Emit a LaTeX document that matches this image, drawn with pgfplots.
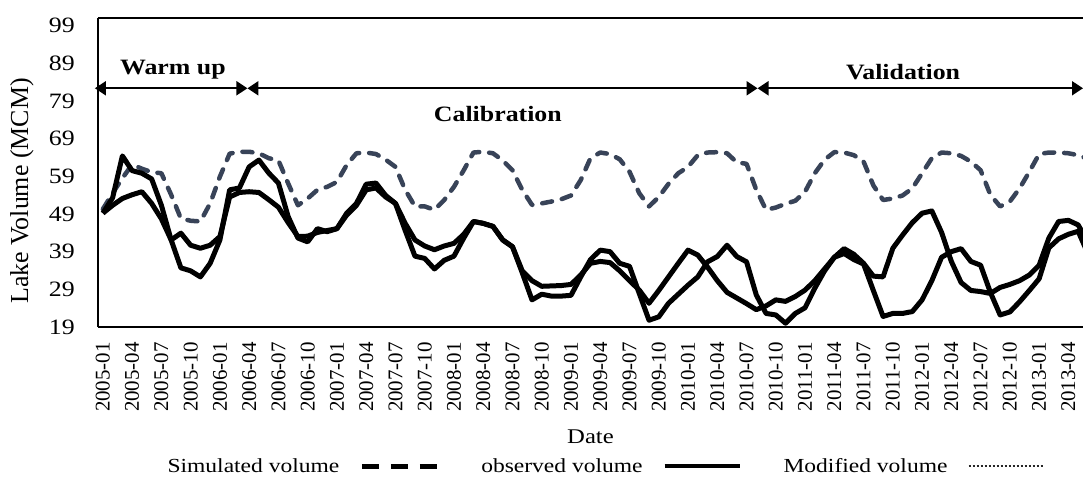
\documentclass[border=0pt]{standalone}
\usepackage{fontspec}
\setmainfont{Liberation Serif}
\newfontfamily\wide[FakeStretch=1.18]{Liberation Serif}
\usepackage{pgfplots}
\usepackage{pgfplotstable}
\pgfplotsset{compat=1.18}
\usetikzlibrary{arrows.meta}
\definecolor{simcol}{RGB}{56,67,88}

\pgfplotstableread{
i S A B
0 50.3 49.2 49.2
1 54.5 53.3 51.3
2 58.5 64.4 53.1
3 62.1 60.5 54.1
4 61.0 59.8 54.9
5 60.1 58.3 51.8
6 59.8 51.3 47.7
7 54.1 42.1 42.1
8 47.8 34.7 43.9
9 47.2 33.9 40.7
10 47.0 32.3 39.9
11 51.8 35.9 40.7
12 58.9 42.1 43.0
13 65.0 55.4 53.5
14 65.5 55.9 54.7
15 65.5 61.5 54.9
16 65.1 63.3 54.7
17 63.8 59.9 52.8
18 63.2 57.2 50.8
19 57.1 48.3 46.7
20 51.3 42.6 43.0
21 53.1 41.6 43.1
22 55.4 45.1 44.1
23 56.2 44.3 44.6
24 57.5 45.1 45.1
25 62.0 49.2 48.7
26 65.1 51.8 51.3
27 65.3 56.9 55.4
28 64.9 57.2 55.9
29 63.4 53.9 53.5
30 61.5 51.8 51.8
31 55.4 44.6 46.5
32 51.0 37.8 42.1
33 51.0 37.2 40.5
34 50.1 34.4 39.5
35 52.7 36.7 40.5
36 56.2 37.8 41.2
37 60.6 42.6 43.6
38 65.3 47.0 47.0
39 65.5 46.5 46.5
40 65.1 45.7 45.7
41 63.2 42.1 42.1
42 60.6 40.3 40.3
43 55.4 33.4 33.9
44 51.4 26.2 31.3
45 51.8 27.7 29.8
46 52.3 27.2 29.9
47 52.9 27.2 30.0
48 53.9 27.4 30.3
49 58.0 32.3 32.8
50 63.8 36.9 35.9
51 65.3 39.4 36.4
52 64.9 39.0 36.1
53 63.5 35.9 33.9
54 60.2 35.1 31.3
55 54.5 27.9 28.8
56 51.0 20.8 25.3
57 53.5 21.7 28.7
58 57.0 25.3 32.3
59 59.8 27.7 35.9
60 61.5 30.1 39.4
61 64.6 32.3 38.1
62 65.3 36.3 34.9
63 65.4 37.7 31.3
64 65.1 40.7 28.2
65 62.7 37.7 26.7
66 62.3 36.3 25.2
67 55.4 27.5 23.6
68 50.1 22.6 24.6
69 50.7 22.2 26.2
70 51.7 20.0 25.8
71 52.5 22.6 27.1
72 54.9 24.1 28.8
73 59.8 29.3 31.3
74 63.4 33.9 34.4
75 65.4 37.5 37.5
76 65.3 38.5 39.8
77 64.6 36.9 38.3
78 62.9 35.7 35.9
79 56.6 28.7 32.5
80 52.7 21.8 32.3
81 53.1 22.6 39.9
82 53.9 22.6 43.4
83 55.8 23.1 46.7
84 59.8 26.2 49.2
85 63.8 31.3 49.8
86 65.3 37.5 44.1
87 65.1 39.0 36.4
88 64.4 39.8 30.8
89 62.9 36.4 28.7
90 60.6 35.4 28.4
91 54.1 28.2 27.9
92 51.0 22.2 29.5
93 52.3 23.0 30.3
94 55.8 25.7 31.3
95 60.2 28.7 32.8
96 64.9 31.8 35.4
97 65.3 40.0 42.6
98 65.3 42.4 47.0
99 65.1 43.6 47.3
100 64.6 44.4 46.1
101 63.6 38.5 41.6
}\data

\begin{document}
\begin{tikzpicture}
\begin{axis}[
  scale only axis, width=985bp, height=309bp,
  xmin=-0.5, xmax=100.5, ymin=19, ymax=101,
  axis x line=box, axis y line=left,
  every non boxed y axis/.append style={y axis line style={-}},
  y axis line style={-},
  axis line style={line width=1.3bp, black},
  major tick length=0pt,
  ytick={19,29,...,99},
  xtick={0,3,...,99},
  xticklabels={2005-01,2005-04,2005-07,2005-10,2006-01,2006-04,2006-07,2006-10,2007-01,2007-04,2007-07,2007-10,2008-01,2008-04,2008-07,2008-10,2009-01,2009-04,2009-07,2009-10,2010-01,2010-04,2010-07,2010-10,2011-01,2011-04,2011-07,2011-10,2012-01,2012-04,2012-07,2012-10,2013-01,2013-04},
  /pgf/number format/assume math mode=true,
  yticklabel style={font=\wide\fontsize{22}{26}\selectfont, anchor=east, inner sep=0pt},
  yticklabel shift=23bp,
  xticklabel style={font=\fontsize{21}{24}\selectfont, rotate=90, anchor=east, inner sep=0pt},
  xticklabel shift=15bp,
  xlabel={Date},
  xlabel style={font=\wide\fontsize{21}{25}\selectfont, at={([yshift=-110bp]axis description cs:0.5,0)}, anchor=center},
  ylabel={Lake Volume (MCM)},
  ylabel style={font=\fontsize{26}{30}\selectfont, at={([xshift=-76bp]axis description cs:0,0.44)}, anchor=center},
  clip mode=individual,
  legend style={at={([yshift=-139bp]axis description cs:0.515,0)}, anchor=center, draw=none, fill=none,
    font=\wide\fontsize{20}{24}\selectfont,
    /tikz/every odd column/.append style={column sep=18bp},
    /tikz/every even column/.append style={column sep=40bp}},
  legend columns=3,
  legend plot pos=right,
  legend image code/.code={\draw[#1] (0bp,0bp) -- (75bp,0bp);},
]
\coordinate (bl) at (rel axis cs:0,0);
\addplot[forget plot, color=simcol, line width=4.5bp, dash pattern=on 10bp off 10bp, line cap=round, line join=round] table[x=i,y=S]{\data};
\addplot[forget plot, black, line width=5bp, line join=round] table[x=i,y=A]{\data};
\addplot[forget plot, black, line width=5bp, line join=round] table[x=i,y=B]{\data};

\addlegendimage{black, line width=5bp, dash pattern=on 17bp off 12bp}
\addlegendentry{Simulated volume}
\addlegendimage{black, line width=4bp}
\addlegendentry{observed volume}
\addlegendimage{black!85, line width=2.5bp, dash pattern=on 2bp off 2bp}
\addlegendentry{Modified volume}

\draw[{Triangle[length=11bp,width=14bp]}-{Triangle[length=11bp,width=14bp]}, line width=2bp] (axis cs:-0.82,82.35) -- (axis cs:14.82,82.35);
\draw[{Triangle[length=11bp,width=14bp]}-{Triangle[length=11bp,width=14bp]}, line width=2bp] (axis cs:14.82,82.35) -- (axis cs:67.13,82.35);
\draw[{Triangle[length=11bp,width=14bp]}-{Triangle[length=11bp,width=14bp]}, line width=2bp] (axis cs:67.13,82.35) -- (axis cs:100.5,82.35);
\node[font=\wide\bfseries\fontsize{22}{26}\selectfont, anchor=base] at (axis cs:7.18,85.9) {Warm up};
\node[font=\wide\bfseries\fontsize{22}{26}\selectfont, anchor=base] at (axis cs:40.5,73.5) {Calibration};
\node[font=\wide\bfseries\fontsize{22}{26}\selectfont, anchor=base] at (axis cs:82.05,84.55) {Validation};
\end{axis}
\pgfresetboundingbox
\path[use as bounding box] ([shift={(-98bp,-157bp)}]bl) rectangle ([shift={(985bp,327bp)}]bl);
\end{tikzpicture}
\end{document}
